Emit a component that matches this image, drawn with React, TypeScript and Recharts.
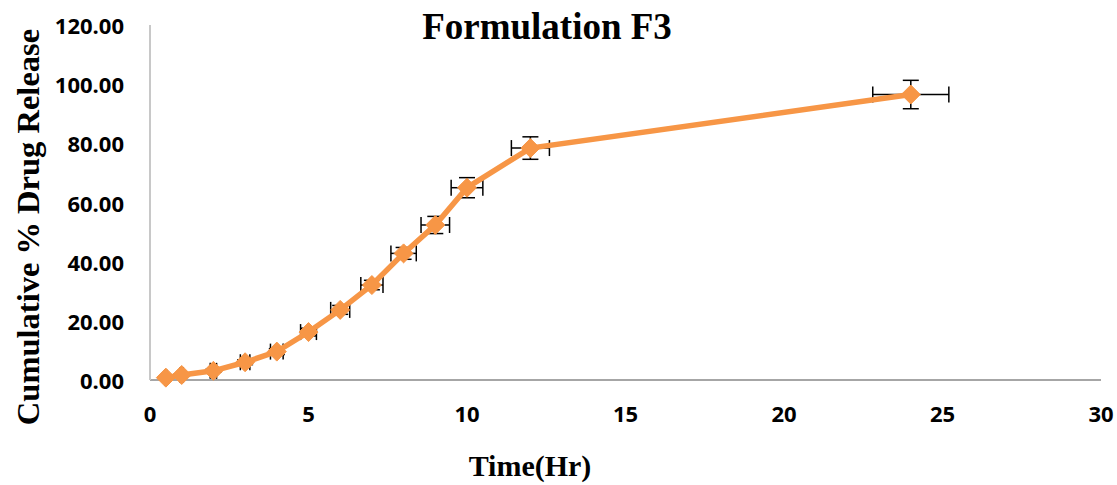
import React from "react";
import { ScatterChart, Scatter, XAxis, YAxis, ErrorBar } from "recharts";

const timeHr = [0.5, 1, 2, 3, 4, 5, 6, 7, 8, 9, 10, 12, 24];
const releasePct = [0.8, 1.7, 3.1, 6.0, 9.6, 16.2, 23.7, 32.1, 42.8, 52.4, 65.0, 78.4, 96.5];
const timeErr = [0.03, 0.05, 0.1, 0.15, 0.2, 0.25, 0.3, 0.35, 0.4, 0.45, 0.5, 0.6, 1.2];
const releaseErr = [0.2, 0.3, 0.5, 0.8, 1.0, 1.3, 1.5, 1.6, 2.0, 2.9, 3.4, 3.8, 4.8];
const xTicks = [0, 5, 10, 15, 20, 25, 30];
const yTicks = [0, 20, 40, 60, 80, 100, 120];

const data = timeHr.map((t, i) => ({
  x: t,
  y: releasePct[i],
  xErr: timeErr[i],
  yErr: releaseErr[i],
}));

const ORANGE = "#F79646";
const TICK_FONT = "'Open Sans', 'Liberation Sans', sans-serif";
const SERIF = "'Liberation Serif', 'Times New Roman', serif";

const Diamond = (props: any) => {
  const { cx, cy } = props;
  if (cx == null || cy == null) return null;
  const r = 9.5;
  return (
    <polygon
      points={`${cx},${cy - r} ${cx + r},${cy} ${cx},${cy + r} ${cx - r},${cy}`}
      fill={ORANGE}
      stroke={ORANGE}
      strokeWidth={1}
    />
  );
};

const XTick = (props: any) => {
  const { x, y, payload } = props;
  return (
    <text x={x} y={y} textAnchor="middle" dominantBaseline="central"
      fontFamily={TICK_FONT} fontWeight={700} fontSize={22} fill="#000">
      {payload.value}
    </text>
  );
};

const YTick = (props: any) => {
  const { x, y, payload } = props;
  return (
    <text x={x} y={y} textAnchor="end" dominantBaseline="central"
      fontFamily={TICK_FONT} fontWeight={700} fontSize={22} fill="#000">
      {Number(payload.value).toFixed(2)}
    </text>
  );
};

export default function App() {
  return (
    <div style={{ position: "absolute", left: 0, top: 0, width: 1117, height: 485, background: "#fff" }}>
      <ScatterChart width={1117} height={485} margin={{ top: 25, right: 16, bottom: 0, left: 0 }}>
        <XAxis
          type="number"
          dataKey="x"
          domain={[0, 30]}
          ticks={xTicks}
          tickLine={false}
          tickSize={0}
          tickMargin={33}
          height={105}
          axisLine={{ stroke: "#a6a6a6", strokeWidth: 2 }}
          tick={<XTick />}
          interval={0}
        />
        <YAxis
          type="number"
          dataKey="y"
          domain={[0, 120]}
          ticks={yTicks}
          tickLine={false}
          tickSize={0}
          tickMargin={26}
          width={150}
          axisLine={{ stroke: "#c8c8c8", strokeWidth: 2 }}
          tick={<YTick />}
          interval={0}
        />
        <Scatter
          data={data}
          fill={ORANGE}
          line={{ stroke: ORANGE, strokeWidth: 5.5 }}
          lineType="joint"
          shape={<Diamond />}
          isAnimationActive={false}
        >
          <ErrorBar dataKey="xErr" direction="x" stroke="#000" strokeWidth={1.5} width={8} />
          <ErrorBar dataKey="yErr" direction="y" stroke="#000" strokeWidth={1.5} width={8} />
        </Scatter>
        <text x={547} y={39} textAnchor="middle" fontFamily={SERIF} fontWeight={700} fontSize={37} fill="#000">
          Formulation F3
        </text>
        <text x={530} y={476} textAnchor="middle" fontFamily={SERIF} fontWeight={700} fontSize={30} fill="#000">
          Time(Hr)
        </text>
        <text
          x={28}
          y={227}
          transform="rotate(-90 28 227)"
          textAnchor="middle"
          dominantBaseline="central"
          fontFamily={SERIF}
          fontWeight={700}
          fontSize={32.5}
          fill="#000"
        >
          Cumulative % Drug Release
        </text>
      </ScatterChart>
    </div>
  );
}
